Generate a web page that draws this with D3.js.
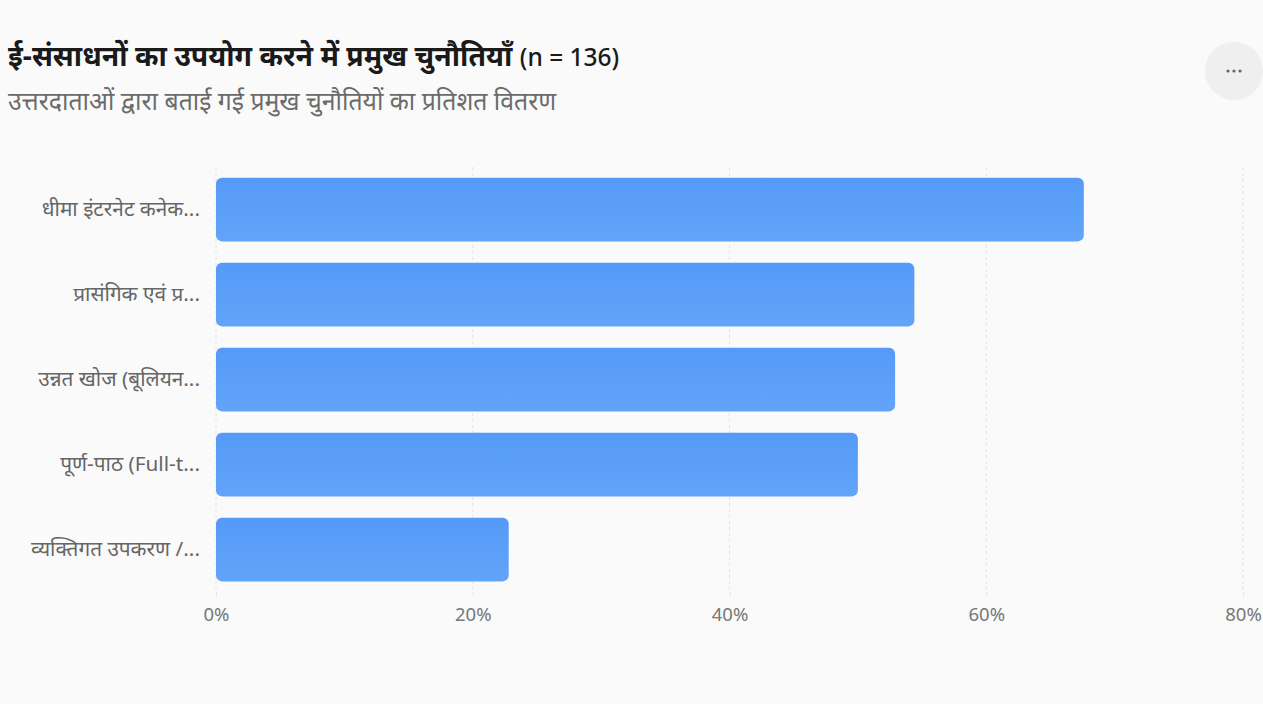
<!DOCTYPE html>
<html lang="hi">
<head>
<meta charset="utf-8">
<script src="https://cdn.jsdelivr.net/npm/d3@7"></script>
<style>
  html, body { margin: 0; padding: 0; background: #fafafa; }
  svg { display: block; font-family: "Noto Sans", "Segoe UI", "Open Sans", sans-serif; }
</style>
</head>
<body>
<svg id="chart" width="1263" height="704"></svg>
<script>
// Challenges reported by respondents (n = 136), share of respondents in %
const categories = [
  "धीमा इंटरनेट कनेक...",
  "प्रासंगिक एवं प्र...",
  "उन्नत खोज (बूलियन...",
  "पूर्ण-पाठ (Full-t...",
  "व्यक्तिगत उपकरण /..."
];
const percentages = [67.6, 54.4, 52.9, 50.0, 22.8];
const tickValues = [0, 20, 40, 60, 80];

const svg = d3.select("#chart");
const W = 1263, H = 704;
const font = "\"Noto Sans\", \"Segoe UI\", sans-serif";

svg.append("rect").attr("width", W).attr("height", H).attr("fill", "#fafafa");

// Title and subtitle
const title = svg.append("text")
  .attr("x", 8).attr("y", 66)
  .attr("fill", "#1a1a1a");
title.append("tspan")
  .attr("font-size", 28.4).attr("font-weight", 700)
  .text("ई-संसाधनों का उपयोग करने में प्रमुख चुनौतियाँ ");
title.append("tspan")
  .attr("font-size", 24.5).attr("font-weight", 500)
  .text("(n = 136)");

svg.append("text")
  .attr("x", 8).attr("y", 110)
  .attr("font-size", 24.8).attr("fill", "#6b6b6b")
  .text("उत्तरदाताओं द्वारा बताई गई प्रमुख चुनौतियों का प्रतिशत वितरण");

// Menu button
svg.append("circle").attr("cx", 1234).attr("cy", 71).attr("r", 29).attr("fill", "#efefef");
svg.append("g").selectAll("circle").data([-6, 0, 6]).join("circle")
  .attr("cx", d => 1234 + d).attr("cy", 71).attr("r", 1.6).attr("fill", "#666");

// Scales
const x = d3.scaleLinear().domain([0, 80]).range([216, 1243]);
const y = d3.scaleBand().domain(categories).range([167, 592])
  .paddingInner(0.25).paddingOuter(0.125);

// Bar gradient
const defs = svg.append("defs");
const grad = defs.append("linearGradient").attr("id", "barFill")
  .attr("x1", 0).attr("y1", 0).attr("x2", 0).attr("y2", 1);
grad.append("stop").attr("offset", "0%").attr("stop-color", "#559af8");
grad.append("stop").attr("offset", "100%").attr("stop-color", "#62a4f9");

// Dashed vertical grid
svg.append("g").selectAll("line").data(tickValues).join("line")
  .attr("x1", d => x(d)).attr("x2", d => x(d))
  .attr("y1", 167).attr("y2", 592)
  .attr("stroke", "#e2e2e2").attr("stroke-width", 1)
  .attr("stroke-dasharray", "3 3");

// Bars
svg.append("g").selectAll("rect").data(categories).join("rect")
  .attr("x", x(0))
  .attr("y", d => y(d))
  .attr("width", (d, i) => x(percentages[i]) - x(0))
  .attr("height", y.bandwidth())
  .attr("rx", 6).attr("ry", 6)
  .attr("fill", "url(#barFill)");

// X axis
const xAxis = svg.append("g").attr("transform", "translate(0,592)")
  .call(d3.axisBottom(x).tickValues(tickValues).tickFormat(d => d + "%").tickSize(4).tickPadding(12));
xAxis.select(".domain").remove();
xAxis.selectAll(".tick line").attr("stroke", "#e6e6e6");
xAxis.selectAll(".tick text")
  .attr("font-size", 18.5).attr("fill", "#777")
  .attr("font-family", font);

// Y axis labels
const yAxis = svg.append("g").attr("transform", "translate(216,0)")
  .call(d3.axisLeft(y).tickSize(0).tickPadding(16));
yAxis.select(".domain").remove();
yAxis.selectAll(".tick text")
  .attr("font-size", 20.8).attr("fill", "#666")
  .attr("font-family", font);
</script>
</body>
</html>
